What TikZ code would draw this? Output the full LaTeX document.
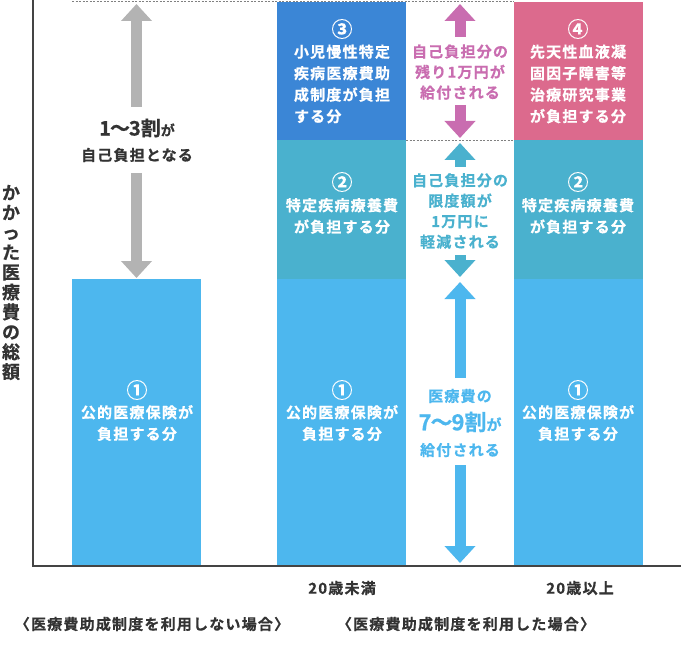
\documentclass[tikz,border=0pt]{standalone}
\usepackage{fontspec}
\setmainfont{Noto Sans CJK JP}[BoldFont={Noto Sans CJK JP Bold}]
\newfontfamily\jpb{Noto Sans CJK JP Bold}[LetterSpace=8, FakeBold=0.6]
\newfontfamily\jpt{Noto Sans CJK JP Bold}[FakeBold=0.6]
\newfontfamily\jpn{Noto Sans CJK JP Bold}[FakeBold=0.3]
\usetikzlibrary{arrows.meta}
\definecolor{lblue}{HTML}{4DB7EE}
\definecolor{tealc}{HTML}{4AB1CE}
\definecolor{dblue}{HTML}{3B86D6}
\definecolor{pinkbox}{HTML}{DC6A8D}
\definecolor{pinkarr}{HTML}{C96DB0}
\definecolor{grayarr}{HTML}{B3B3B3}
\definecolor{darktxt}{HTML}{333333}
\definecolor{axisc}{HTML}{444444}
\begin{document}
\begin{tikzpicture}[x=1pt,y=-1pt,
  boxtxt/.style={text=white, font=\jpb\fontsize{15}{21.5}\selectfont, align=center, inner sep=0pt},
  numtxt/.style={text=white, font=\jpn\fontsize{21}{22}\selectfont, inner sep=0pt},
  midtxt/.style={font=\jpb\fontsize{15}{20.5}\selectfont, align=center, inner sep=0pt},
  labtxt/.style={text=darktxt, font=\jpb\fontsize{15}{18}\selectfont, inner sep=0pt},
  bigarrow/.style={line width=11pt, -{Triangle[length=17pt,width=30pt]}},
  gapline/.style={draw=gray, dashed, line width=0.6pt, dash pattern=on 2pt off 1.5pt}
]
\useasboundingbox (0,0) rectangle (682,647);

% bars
\fill[lblue] (72,279) rectangle (201,566);
\fill[lblue] (277,279) rectangle (406,566);
\fill[tealc] (277,140) rectangle (406,279);
\fill[dblue] (277,2) rectangle (406,140);
\fill[lblue] (514,279) rectangle (643,566);
\fill[tealc] (514,140) rectangle (643,279);
\fill[pinkbox] (514,2) rectangle (643,140);

% dashed guide lines
\draw[gapline] (72,1.5) -- (514,1.5);
\draw[gapline] (406,140) -- (514,140);

% axes
\draw[axisc, line width=1.8pt] (33,0) -- (33,566) -- (681,566);

% axis label (vertical)
\node[text=darktxt, font=\jpb\fontsize{18}{19.9}\selectfont, align=center, inner sep=0pt] (ylab) at (11,282.5)
  {か\\か\\っ\\た\\医\\療\\費\\の\\総\\額};

% left bar text
\node[numtxt] (l1n) at (137,390) {①};
\node[boxtxt] (l1t) at (137,423) {公的医療保険が\\負担する分};

% middle column
\node[numtxt] (m3n) at (342,29) {③};
\node[boxtxt, align=left] (m3t) at (342,84) {小児慢性特定\\疾病医療費助\\成制度が負担\\する分};
\node[numtxt] (m2n) at (342,182) {②};
\node[boxtxt] (m2t) at (342,216) {特定疾病療養費\\が負担する分};
\node[numtxt] (m1n) at (342,390) {①};
\node[boxtxt] (m1t) at (342,423) {公的医療保険が\\負担する分};

% right column
\node[numtxt] (r4n) at (578,29) {④};
\node[boxtxt] (r4t) at (578,84) {先天性血液凝\\固因子障害等\\治療研究事業\\が負担する分};
\node[numtxt] (r2n) at (578,182) {②};
\node[boxtxt] (r2t) at (578,216) {特定疾病療養費\\が負担する分};
\node[numtxt] (r1n) at (578,390) {①};
\node[boxtxt] (r1t) at (578,423) {公的医療保険が\\負担する分};

% gray arrow (left)
\node[text=darktxt, font=\jpt\fontsize{20}{20}\selectfont, inner sep=0pt] (gt1) at (137,128) {1\kern-1pt〜\kern-1pt3割{\fontsize{14}{16}\selectfont が}};
\node[text=darktxt, font=\jpb\fontsize{15}{18}\selectfont, inner sep=0pt] (gt2) at (137,155) {自己負担となる};
\coordinate (gA) at (136.5,107); \coordinate (gAt) at (136.5,4);
\coordinate (gB) at (136.5,173); \coordinate (gBt) at (136.5,278);
\draw[bigarrow, grayarr] (gA) -- (gAt);
\draw[bigarrow, grayarr] (gB) -- (gBt);

% pink arrow
\node[midtxt, text=pinkarr] (pt) at (460,72) {自己負担分の\\残り1万円が\\給付される};
\coordinate (pA) at (460,37); \coordinate (pAt) at (460,4);
\coordinate (pB) at (460,105); \coordinate (pBt) at (460,138);
\draw[bigarrow, pinkarr] (pA) -- (pAt);
\draw[bigarrow, pinkarr] (pB) -- (pBt);

% teal arrow
\node[midtxt, text=tealc] (tt) at (460,211) {自己負担分の\\限度額が\\1万円に\\軽減される};
\coordinate (tA) at (460,167); \coordinate (tAt) at (460,143);
\coordinate (tB) at (460,255); \coordinate (tBt) at (460,277);
\draw[bigarrow, tealc] (tA) -- (tAt);
\draw[bigarrow, tealc] (tB) -- (tBt);

% blue arrow
\node[text=lblue, font=\jpb\fontsize{15}{18}\selectfont, inner sep=0pt] (bt1) at (460,396) {医療費の};
\node[text=lblue, font=\jpt\fontsize{22}{22}\selectfont, inner sep=0pt] (bt2) at (460,422) {7\kern-1pt〜\kern-1pt9割{\fontsize{15}{16}\selectfont が}};
\node[text=lblue, font=\jpb\fontsize{15}{18}\selectfont, inner sep=0pt] (bt3) at (460,450) {給付される};
\coordinate (bA) at (460,378); \coordinate (bAt) at (460,282);
\coordinate (bB) at (460,465); \coordinate (bBt) at (460,563);
\draw[bigarrow, lblue] (bA) -- (bAt);
\draw[bigarrow, lblue] (bB) -- (bBt);

% bottom labels
\node[labtxt] (age1) at (342,588) {20歳未満};
\node[labtxt] (age2) at (580,588) {20歳以上};
\node[labtxt] (cap1) at (152,624) {〈医療費助成制度を利用しない場合〉};
\node[labtxt] (cap2) at (466,624) {〈医療費助成制度を利用した場合〉};
\end{tikzpicture}
\end{document}
